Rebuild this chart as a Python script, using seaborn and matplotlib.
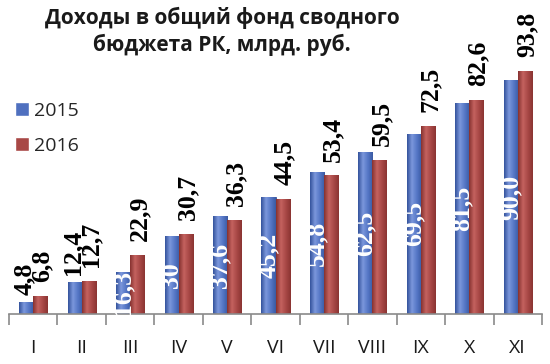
"""
plot.py — Доходы в общий фонд сводного бюджета РК (2015 vs 2016), bar chart.
"""

import matplotlib
matplotlib.use("Agg")

import matplotlib.pyplot as plt
import numpy as np
import pandas as pd
import seaborn as sns
from matplotlib.colors import LinearSegmentedColormap

# ---------------------------------------------------------------------------
# Data
# ---------------------------------------------------------------------------

months = ["I", "II", "III", "IV", "V", "VI", "VII", "VIII", "IX", "X", "XI"]
years = ["2015", "2016"]

values_2015 = [4.8, 12.4, 16.3, 30.0, 37.6, 45.2, 54.8, 62.5, 69.5, 81.5, 90.0]
values_2016 = [6.8, 12.7, 22.9, 30.7, 36.3, 44.5, 53.4, 59.5, 72.5, 82.6, 93.8]

labels_2015 = ["4,8", "12,4", "16,3", "30", "37,6", "45,2", "54,8", "62,5", "69,5", "81,5", "90,0"]
labels_2016 = ["6,8", "12,7", "22,9", "30,7", "36,3", "44,5", "53,4", "59,5", "72,5", "82,6", "93,8"]

title = "Доходы в общий фонд сводного\nбюджета РК, млрд. руб."

# ---------------------------------------------------------------------------
# Styling
# ---------------------------------------------------------------------------

BLUE = "#4f70bf"
RED = "#a84846"
# dark edge -> highlight -> dark edge, across each bar
GRAD = {
    BLUE: ["#34539c", "#7b97dc", "#5577c6", "#3a5aa3"],
    RED: ["#863230", "#c4625f", "#a84846", "#8a3432"],
}

sns.set_theme(style="white")
plt.rcParams["font.family"] = ["Open Sans", "DejaVu Sans"]

df = pd.DataFrame({
    "month": months * 2,
    "year": [years[0]] * len(months) + [years[1]] * len(months),
    "value": values_2015 + values_2016,
})

fig = plt.figure(figsize=(5.5, 3.64), dpi=100)
ax = fig.add_axes([9 / 550, 50 / 364, 533 / 550, 314 / 364])

sns.barplot(
    data=df, x="month", y="value", hue="year", order=months, hue_order=years,
    palette=[BLUE, RED], width=0.58, saturation=1, ax=ax, legend=True,
)

ax.set_xlabel("")
ax.set_ylabel("")
ax.set_yticks([])

# gradient fill clipped to every bar
for container, color in zip(ax.containers, [BLUE, RED]):
    cmap = LinearSegmentedColormap.from_list("g", GRAD[color])
    grad = np.linspace(0, 1, 64).reshape(1, -1)
    for bar in container:
        x0, y0 = bar.get_x(), bar.get_y()
        w, h = bar.get_width(), bar.get_height()
        im = ax.imshow(grad, cmap=cmap, aspect="auto",
                       extent=(x0, x0 + w, y0, y0 + h), zorder=bar.get_zorder() + 0.1)
        im.set_clip_path(bar)
        bar.set_edgecolor(GRAD[color][0])
        bar.set_linewidth(0.6)
ax.set_xlim(-0.5, len(months) - 0.5)
ax.set_ylim(0, 121)

# data labels
serif = dict(family="Liberation Serif", weight="bold", fontsize=18.5)
for bar, val, lab in zip(ax.containers[1], values_2016, labels_2016):
    ax.annotate(lab, (bar.get_x() + bar.get_width() / 2, val),
                xytext=(1.5, 10), textcoords="offset points", rotation=90,
                ha="center", va="bottom", color="black", zorder=5, **serif)
for bar, val, lab in zip(ax.containers[0], values_2015, labels_2015):
    cx = bar.get_x() + bar.get_width() / 2
    if val < 15:
        ax.annotate(lab, (cx, val), xytext=(-1, 5), textcoords="offset points",
                    rotation=90, ha="center", va="bottom", color="black", zorder=5, **serif)
    else:
        ax.text(cx, val / 2, lab, rotation=90, ha="center", va="center",
                color="white", zorder=5, **serif)

# axis: only the bottom line with ticks between categories
for side in ["left", "right", "top"]:
    ax.spines[side].set_visible(False)
ax.spines["bottom"].set_color("#8a8a8a")
ax.spines["bottom"].set_linewidth(1.2)
ax.set_xticks(np.arange(-0.5, len(months)), minor=True)
ax.tick_params(axis="x", which="minor", bottom=True, length=8, width=1.2, color="#8a8a8a")
ax.tick_params(axis="x", which="major", bottom=False, length=0, pad=18, labelsize=14,
               labelcolor="#1a1a1a")

handles, _ = ax.get_legend_handles_labels()
ax.legend(handles, years, loc="upper left", bbox_to_anchor=(15 / 550, 1 - 102 / 364),
          bbox_transform=fig.transFigure, frameon=False, fontsize=14,
          handlelength=0.7, handleheight=0.7, handletextpad=0.3, labelspacing=0.85,
          borderpad=0, borderaxespad=0)

fig.text(222 / 550, 1 - 7 / 364, title, ha="center", va="top", fontsize=15,
         fontweight="bold", linespacing=1.25, color="#1a1a1a")

fig.savefig("out.png", dpi=100)
plt.close(fig)
